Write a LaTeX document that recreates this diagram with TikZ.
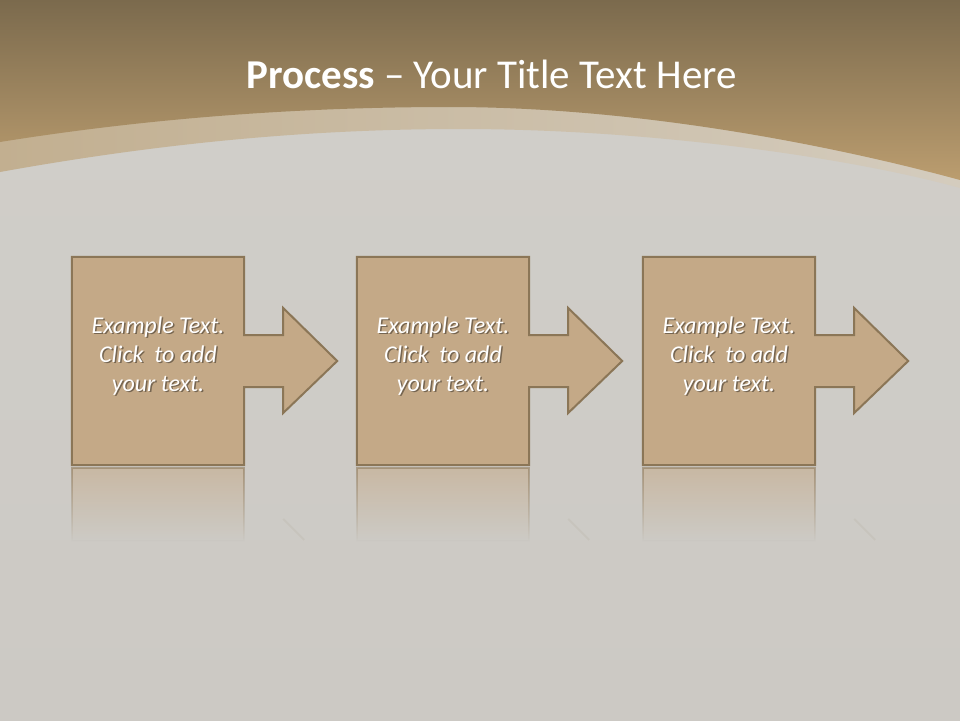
\documentclass[tikz,border=0pt]{standalone}
\usepackage{fontspec}
\setmainfont{Carlito}
\usetikzlibrary{calc, fadings}
\definecolor{topbrown}{HTML}{7B6A4D}
\definecolor{lowbrown}{HTML}{BB9D6F}
\definecolor{bandleft}{HTML}{C2AF90}
\definecolor{bandright}{HTML}{D4CCBE}
\definecolor{bggray}{HTML}{D1CFCA}
\definecolor{bggraylow}{HTML}{CCC9C4}
\definecolor{boxtan}{HTML}{C4A987}
\definecolor{boxedge}{HTML}{8B7657}
\tikzfading[name=reflfade, top color=transparent!45, bottom color=transparent!100]
\tikzset{
  stepbox/.style={minimum width=172pt, minimum height=208pt, inner sep=0pt},
  stepshape/.style={fill=boxtan, draw=boxedge, line width=2pt, line join=miter},
  steptext/.style={align=center, text=white, font=\itshape\fontsize{24}{29}\selectfont},
  stepshadow/.style={steptext, text=black, opacity=0.4},
  reflect/.style={fill=boxtan, draw=boxedge, line width=1.5pt, path fading=reflfade},
  titletext/.style={text=white, anchor=base, font=\fontsize{41}{48}\selectfont}
}
% one step: box with arrow, text and reflection
\newcommand{\procstep}[2]{%
  \node[stepbox] (#1) at (#2+86,361) {};
  \draw[stepshape] (#1.north west) -- (#1.north east) -- ($(#1.east)+(0,-26)$)
    -- ($(#1.east)+(39,-26)$) -- ($(#1.east)+(39,-53)$) -- ($(#1.east)+(93,0)$)
    -- ($(#1.east)+(39,52)$) -- ($(#1.east)+(39,26)$) -- ($(#1.east)+(0,26)$)
    -- (#1.south east) -- (#1.south west) -- cycle;
  \node[stepshadow] (#1shadow) at ($(#1.center)+(1.5,-3.5)$) {Example Text.\\Click~ to add\\your text.};
  \node[steptext] (#1text) at ($(#1.center)+(0,-5)$) {Example Text.\\Click~ to add\\your text.};
  \path[reflect] ($(#1.south west)+(0,3)$) rectangle ($(#1.south east)+(0,76)$);
  \draw[boxedge, line width=2pt, opacity=0.08] ($(#1.east)+(39,158)$) -- ($(#1.east)+(60,179)$);
}

\begin{document}
\begin{tikzpicture}[x=1pt, y=-1pt]
\useasboundingbox (0,0) rectangle (960,720);
\clip (0,0) rectangle (960,720);
% background
\shade[top color=bggray, bottom color=bggraylow] (0,0) rectangle (960,720);
\shade[left color=bandleft, right color=bandright] (0,0) -- (960,0) -- (960,188)
  .. controls (860,160) and (660,129) .. (460,129)
  .. controls (300,129) and (150,145) .. (0,172) -- cycle;
\shade[top color=topbrown, bottom color=lowbrown] (0,0) -- (960,0) -- (960,180)
  .. controls (850,150) and (650,107) .. (450,107)
  .. controls (300,107) and (150,118) .. (0,142) -- cycle;
% title
\node[titletext] (title) at (491.5,88) {\textbf{Process} – Your Title Text Here};
% steps
\procstep{stepa}{72}
\procstep{stepb}{357}
\procstep{stepc}{643}
\end{tikzpicture}
\end{document}
